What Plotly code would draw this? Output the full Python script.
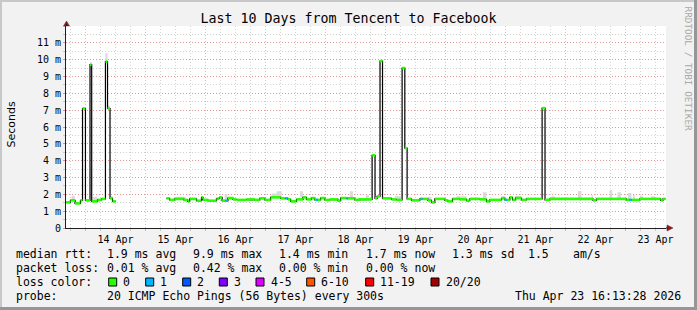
import plotly.graph_objects as go

# ---------------- data ----------------
title_text = "Last 10 Days from Tencent to Facebook"
y_axis_title = "Seconds"
y_ticks = [0, 1, 2, 3, 4, 5, 6, 7, 8, 9, 10, 11]
y_tick_labels = ["0", "1 m", "2 m", "3 m", "4 m", "5 m", "6 m", "7 m", "8 m", "9 m", "10 m", "11 m"]
x_range = ["2026-04-13 16:13:28", "2026-04-23 16:13:28"]

# median rtt (ms) as steps: start time, value (None = no data), loss count
seg_start = [
    "2026-04-13 16:15", "2026-04-13 18:00", "2026-04-13 19:50", "2026-04-13 22:00", "2026-04-13 22:50",
    "2026-04-14 00:00", "2026-04-14 01:50", "2026-04-14 02:30", "2026-04-14 04:50", "2026-04-14 06:25",
    "2026-04-14 08:00", "2026-04-14 08:50", "2026-04-14 09:50", "2026-04-14 10:50", "2026-04-14 12:05",
    "2026-04-15 08:25", "2026-04-15 09:40", "2026-04-15 11:40", "2026-04-15 15:20", "2026-04-15 16:55",
    "2026-04-15 17:40", "2026-04-15 20:25", "2026-04-15 22:25", "2026-04-15 23:00", "2026-04-16 01:00",
    "2026-04-16 04:25", "2026-04-16 04:50", "2026-04-16 05:40", "2026-04-16 06:40", "2026-04-16 08:05",
    "2026-04-16 09:00", "2026-04-16 11:00", "2026-04-16 12:25", "2026-04-16 16:25", "2026-04-16 19:45",
    "2026-04-16 21:45", "2026-04-16 23:45", "2026-04-17 02:05", "2026-04-17 06:05", "2026-04-17 08:00",
    "2026-04-17 09:00", "2026-04-17 10:05", "2026-04-17 12:25", "2026-04-17 15:00", "2026-04-17 16:25",
    "2026-04-17 18:25", "2026-04-17 19:45", "2026-04-17 20:15", "2026-04-17 21:00", "2026-04-17 22:05",
    "2026-04-17 23:45", "2026-04-18 01:45", "2026-04-18 05:00", "2026-04-18 06:05", "2026-04-18 08:25",
    "2026-04-18 09:00", "2026-04-18 11:45", "2026-04-18 13:00", "2026-04-18 18:40", "2026-04-18 19:50",
    "2026-04-18 20:40", "2026-04-18 21:50", "2026-04-18 22:50", "2026-04-19 02:25", "2026-04-19 04:25",
    "2026-04-19 06:40", "2026-04-19 07:45", "2026-04-19 08:40", "2026-04-19 10:25", "2026-04-19 13:45",
    "2026-04-19 14:05", "2026-04-19 14:50", "2026-04-19 17:00", "2026-04-19 18:25", "2026-04-19 19:45",
    "2026-04-19 23:45", "2026-04-20 01:00", "2026-04-20 02:50", "2026-04-20 05:45", "2026-04-20 08:25",
    "2026-04-20 09:45", "2026-04-20 13:45", "2026-04-20 16:25", "2026-04-20 17:45", "2026-04-20 22:25",
    "2026-04-20 23:45", "2026-04-21 00:35", "2026-04-21 01:45", "2026-04-21 02:50", "2026-04-21 04:05",
    "2026-04-21 06:25", "2026-04-21 08:25", "2026-04-21 14:40", "2026-04-21 15:50", "2026-04-21 17:45",
    "2026-04-22 11:00", "2026-04-22 12:25", "2026-04-23 00:25", "2026-04-23 01:40", "2026-04-23 02:30",
    "2026-04-23 05:45", "2026-04-23 14:05", "2026-04-23 15:00",
]
seg_median = [
    1.52, 1.64, 1.46, 1.64, 7.10,
    1.64, 9.70, 1.58, 1.67, 1.73,
    9.88, 7.10, 1.76, 1.58, None,
    1.76, 1.67, 1.73, 1.67, 1.58,
    1.73, 1.62, 1.82, 1.67, 1.62,
    1.73, 1.76, 1.82, 1.62, 1.62,
    1.78, 1.70, 1.67, 1.70, 1.67,
    1.76, 1.67, 1.82, 1.76, 1.76,
    1.70, 1.58, 1.70, 1.82, 1.70,
    1.78, 1.67, 1.67, 1.67, 1.78,
    1.67, 1.70, 1.62, 1.78, 1.76,
    1.76, 1.67, 1.70, 4.32, 1.76,
    1.88, 9.92, 1.76, 1.70, 1.67,
    9.50, 4.74, 1.73, 1.64, 1.73,
    1.73, 1.73, 1.64, 1.52, 1.73,
    1.64, 1.58, 1.73, 1.70, 1.62,
    1.73, 1.70, 1.58, 1.67, 1.76,
    1.67, 1.67, 1.82, 1.67, 1.78,
    1.67, 1.73, 7.12, 1.67, 1.73,
    1.64, 1.73, 1.67, 1.67, 1.67,
    1.73, 1.64, 1.73,
]
seg_loss = [
    0, 0, 0, 0, 0,
    0, 0, 0, 0, 0,
    0, 0, 0, 0, 0,
    0, 0, 0, 0, 0,
    0, 0, 0, 0, 0,
    0, 0, 0, 0, 1,
    0, 0, 0, 0, 0,
    0, 0, 0, 0, 1,
    0, 0, 0, 0, 0,
    0, 0, 1, 0, 0,
    0, 0, 0, 0, 1,
    0, 0, 0, 0, 0,
    0, 0, 0, 0, 0,
    0, 0, 0, 0, 0,
    1, 0, 0, 0, 0,
    0, 0, 0, 0, 0,
    0, 0, 0, 0, 0,
    1, 0, 0, 0, 0,
    0, 0, 0, 0, 0,
    0, 0, 0, 1, 0,
    0, 0, 0,
]
data_end = "2026-04-23 16:00"

# smoke (ping spread) patches: start, end, low, high (ms)
smoke_start = ["2026-04-13 18:30", "2026-04-14 01:50", "2026-04-14 02:50", "2026-04-14 08:00", "2026-04-14 08:50",
               "2026-04-14 09:50", "2026-04-15 11:40", "2026-04-16 07:40", "2026-04-17 02:30", "2026-04-17 04:30",
               "2026-04-17 13:50", "2026-04-18 09:45", "2026-04-18 16:10", "2026-04-19 03:45", "2026-04-19 17:00",
               "2026-04-20 04:25", "2026-04-20 15:00", "2026-04-20 22:25", "2026-04-21 03:40", "2026-04-21 18:25",
               "2026-04-22 05:00", "2026-04-22 10:25", "2026-04-22 17:40", "2026-04-22 20:50", "2026-04-23 01:00",
               "2026-04-23 03:00", "2026-04-23 05:45", "2026-04-23 10:25"]
smoke_end = ["2026-04-13 19:45", "2026-04-14 02:30", "2026-04-14 04:50", "2026-04-14 08:50", "2026-04-14 09:50",
             "2026-04-14 10:50", "2026-04-15 16:00", "2026-04-16 08:50", "2026-04-17 04:30", "2026-04-17 06:30",
             "2026-04-17 15:00", "2026-04-18 11:00", "2026-04-18 17:30", "2026-04-19 06:25", "2026-04-19 18:25",
             "2026-04-20 08:25", "2026-04-20 16:25", "2026-04-20 23:45", "2026-04-21 06:25", "2026-04-21 19:45",
             "2026-04-22 06:25", "2026-04-22 11:00", "2026-04-22 18:40", "2026-04-22 22:10", "2026-04-23 02:25",
             "2026-04-23 03:45", "2026-04-23 07:00", "2026-04-23 11:45"]
smoke_lo = [1.60, 9.70, 1.58, 9.88, 7.10, 1.76, 1.73, 1.62, 1.82, 1.82, 1.82, 1.76, 1.70, 1.67, 1.64, 1.70, 1.70,
            1.76, 1.73, 1.73, 1.73, 1.73, 1.73, 1.73, 1.67, 1.67, 1.73, 1.73]
smoke_hi = [1.92, 9.85, 1.85, 10.40, 7.27, 1.90, 1.85, 2.00, 2.05, 2.18, 2.18, 2.18, 1.95, 1.88, 1.85, 1.88, 2.12,
            1.90, 1.90, 1.88, 2.20, 1.95, 2.26, 2.13, 2.08, 1.95, 1.92, 1.88]

loss_names = ["0", "1", "2", "3", "4-5", "6-10", "11-19", "20/20"]
loss_colors = ["#26ff00", "#00b8ff", "#0059ff", "#7e00ff", "#dd00ff", "#ff5500", "#ff0000", "#a10000"]

rtt_label = "median rtt:"
rtt_stats = ["1.9 ms avg", "9.9 ms max", "1.4 ms min", "1.7 ms now", "1.3 ms sd", "1.5", "am/s"]
loss_label = "packet loss:"
loss_stats = ["0.01 % avg", "0.42 % max", "0.00 % min", "0.00 % now"]
color_label = "loss color:"
probe_label = "probe:"
probe_text = "20 ICMP Echo Pings (56 Bytes) every 300s"
stamp_text = "Thu Apr 23 16:13:28 2026"
credit_text = "RRDTOOL / TOBI OETIKER"

# ---------------- layout geometry ----------------
W, H = 697, 310
ML, MR, MT, MB = 66, 31, 26, 82
PW, PH = W - ML - MR, H - MT - MB


def px(x):
    return (x - ML) / PW


def py(y):
    return 1 - (y - MT) / PH


MONO = "DejaVu Sans Mono"
fig = go.Figure()

# smoke
sx, sy = [], []
for s0, s1, lo, hi in zip(smoke_start, smoke_end, smoke_lo, smoke_hi):
    sx += [s0, s1, s1, s0, s0, None]
    sy += [lo, lo, hi, hi, lo, None]
fig.add_trace(go.Scatter(x=sx, y=sy, mode="lines", fill="toself", fillcolor="#d9d9d9",
                         line=dict(width=0, color="#d9d9d9"), hoverinfo="skip", showlegend=False))

# median (dark step line)
seg_end = seg_start[1:] + [data_end]
mx, my = [], []
for s0, s1, v in zip(seg_start, seg_end, seg_median):
    if v is None:
        mx.append(s0)
        my.append(None)
    else:
        mx += [s0, s1]
        my += [v, v]
fig.add_trace(go.Scatter(x=mx, y=my, mode="lines", line=dict(color="#000000", width=1.2),
                         connectgaps=False, hoverinfo="skip", showlegend=False))

# loss-coloured median band
for li, col in enumerate(loss_colors):
    bx, by = [], []
    for s0, s1, v, l in zip(seg_start, seg_end, seg_median, seg_loss):
        if v is not None and l == li:
            bx += [s0, s1, None]
            by += [v, v, None]
    if bx:
        fig.add_trace(go.Scatter(x=bx, y=by, mode="lines", line=dict(color=col, width=2.6),
                                 hoverinfo="skip", showlegend=False))

MGRID = "rgba(240,70,70,0.42)"
GRID = "rgba(140,140,140,0.4)"
AXIS = "#1f1f1f"

fig.update_xaxes(
    type="date", range=x_range, tickmode="linear", tick0="2026-04-14", dtick=86400000,
    ticklabelmode="period", tickformat="%d %b",
    tickfont=dict(family=MONO, size=10, color="#000000"),
    showgrid=True, gridcolor=MGRID, griddash="1px,2px", gridwidth=1,
    ticks="outside", ticklen=2, tickcolor=MGRID,
    minor=dict(tick0="2026-04-14", dtick=21600000, showgrid=True, gridcolor=GRID,
               griddash="1px,2px", ticks="outside", ticklen=2, tickcolor=GRID),
    showline=True, linecolor=AXIS, linewidth=1, zeroline=False, fixedrange=True,
)
fig.update_yaxes(
    range=[0, 12], tickmode="array", tickvals=y_ticks, ticktext=y_tick_labels,
    tickfont=dict(family=MONO, size=10, color="#000000"),
    showgrid=True, gridcolor=MGRID, griddash="1px,2px", gridwidth=1,
    ticks="outside", ticklen=2, tickcolor=MGRID,
    minor=dict(tickmode="linear", tick0=0, dtick=0.5, showgrid=True, gridcolor=GRID,
               griddash="1px,2px", ticks="outside", ticklen=2, tickcolor=GRID),
    showline=True, linecolor=AXIS, linewidth=1, zeroline=False, fixedrange=True,
)

ann = []
ann.append(dict(text=y_axis_title, x=px(10.5), y=py(125), textangle=-90, xanchor="center",
                yanchor="middle", font=dict(family="DejaVu Sans", size=11, color="#000")))
ann.append(dict(text=credit_text, x=px(688.5), y=py(69), textangle=90, xanchor="center",
                yanchor="middle", font=dict(family=MONO, size=9.4, color="#a8a8a8")))

row_y = [254, 268, 282, 296]
col_x = [107.3, 193.3, 279.3, 365.7, 451.7, 528.3, 572.7]
LEG_FONT = dict(family=MONO, size=11.5, color="#000")


def left_text(t, x, y):
    ann.append(dict(text=t, x=px(x), y=py(y), xanchor="left", yanchor="middle",
                    font=LEG_FONT, borderpad=0, borderwidth=0))


left_text(rtt_label, 16, row_y[0])
for t, x in zip(rtt_stats, col_x):
    left_text(t, x, row_y[0])
left_text(loss_label, 16, row_y[1])
for t, x in zip(loss_stats, col_x):
    left_text(t, x, row_y[1])
left_text(color_label, 16, row_y[2])
box_x = [108.7, 145.7, 182.7, 219.3, 256, 306.7, 365.7, 431]
shapes = []
for name, col, bx0 in zip(loss_names, loss_colors, box_x):
    shapes.append(dict(type="rect", xref="paper", yref="paper", x0=px(bx0), x1=px(bx0 + 8),
                       y0=py(row_y[2] - 4), y1=py(row_y[2] + 4), fillcolor=col,
                       line=dict(color="#000", width=1)))
    left_text(name, bx0 + 14.6, row_y[2])
left_text(probe_label, 16, row_y[3])
left_text(probe_text, 107.3, row_y[3])
ann.append(dict(text=stamp_text, x=px(680.5), y=py(row_y[3]), xanchor="right", yanchor="middle",
                font=LEG_FONT, borderpad=0, borderwidth=0))

for a in ann:
    a.setdefault("xref", "paper")
    a.setdefault("yref", "paper")
    a.setdefault("showarrow", False)

# frame (3D border)
shapes += [
    dict(type="rect", xref="paper", yref="paper", x0=px(0), x1=px(W), y0=py(0), y1=py(2),
         fillcolor="#c8c8c8", line=dict(width=0), layer="below"),
    dict(type="rect", xref="paper", yref="paper", x0=px(0), x1=px(2), y0=py(0), y1=py(H),
         fillcolor="#c8c8c8", line=dict(width=0), layer="below"),
    dict(type="rect", xref="paper", yref="paper", x0=px(0), x1=px(W), y0=py(H - 3), y1=py(H),
         fillcolor="#969696", line=dict(width=0), layer="below"),
    dict(type="rect", xref="paper", yref="paper", x0=px(W - 3), x1=px(W), y0=py(0), y1=py(H),
         fillcolor="#969696", line=dict(width=0), layer="below"),
]
# axis arrows
ARROW = "#801f1f"
shapes.append(dict(type="path", xref="paper", yref="paper",
                   path=f"M {px(63.5)},{py(26)} L {px(69.5)},{py(26)} L {px(66.5)},{py(21)} Z",
                   fillcolor=ARROW, line=dict(color=ARROW, width=0.5)))
shapes.append(dict(type="path", xref="paper", yref="paper",
                   path=f"M {px(667)},{py(225)} L {px(667)},{py(231)} L {px(673)},{py(228)} Z",
                   fillcolor=ARROW, line=dict(color=ARROW, width=0.5)))
shapes.append(dict(type="line", xref="paper", yref="paper", x0=px(66.5), x1=px(66.5),
                   y0=py(MT), y1=py(24), line=dict(color=AXIS, width=1)))
shapes.append(dict(type="line", xref="paper", yref="paper", x0=px(ML + PW), x1=px(668),
                   y0=py(228), y1=py(228), line=dict(color=AXIS, width=1)))

fig.update_layout(
    width=W, height=H, margin=dict(l=ML, r=MR, t=MT, b=MB),
    paper_bgcolor="#f2f2f2", plot_bgcolor="#ffffff",
    title=dict(text=title_text, x=0.5, xanchor="center", y=1 - 18 / H, yanchor="middle",
               font=dict(family=MONO, size=13.3, color="#000")),
    annotations=ann, shapes=shapes, showlegend=False,
)

fig.write_html("out.html", config={"displayModeBar": False})
